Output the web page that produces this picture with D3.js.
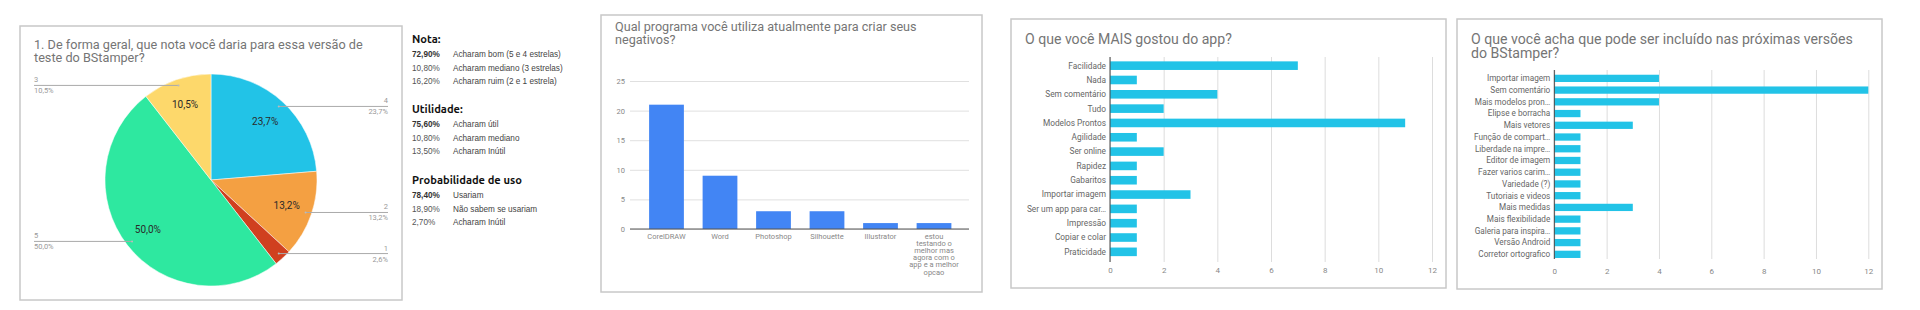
<!DOCTYPE html>
<html>
<head>
<meta charset="utf-8">
<style>
  body { margin: 0; background: #fff; }
  svg { display: block; font-family: Roboto, Arial, sans-serif; }
</style>
<script src="https://cdn.jsdelivr.net/npm/d3@7"></script>
</head>
<body>
<script>
// ---- data ----
var notaLabels = ["4", "2", "1", "5", "3"];
var notaCounts = [9, 5, 1, 19, 4];
var notaColors = ["#22c3e7", "#f4a042", "#d0401f", "#2ee8a0", "#fdd86b"];

var summaryTitles = ["Nota:", "Utilidade:", "Probabilidade de uso"];
var summaryPcts = [["72,90%", "10,80%", "16,20%"], ["75,60%", "10,80%", "13,50%"], ["78,40%", "18,90%", "2,70%"]];
var summaryTexts = [
  ["Acharam bom (5 e 4 estrelas)", "Acharam mediano (3 estrelas)", "Acharam ruim (2 e 1 estrela)"],
  ["Acharam útil", "Acharam mediano", "Acharam Inútil"],
  ["Usariam", "Não sabem se usariam", "Acharam Inútil"]
];

var programs = ["CorelDRAW", "Word", "Photoshop", "Silhouette", "Illustrator",
  "estou|testando o|melhor mas|agora com o|app e a melhor|opcao"];
var programCounts = [21, 9, 3, 3, 1, 1];
var programTicks = [0, 5, 10, 15, 20, 25];

var likedItems = ["Facilidade", "Nada", "Sem comentário", "Tudo", "Modelos Prontos", "Agilidade",
  "Ser online", "Rapidez", "Gabaritos", "Importar imagem", "Ser um app para car…", "Impressão",
  "Copiar e colar", "Praticidade"];
var likedCounts = [7, 1, 4, 2, 11, 1, 2, 1, 1, 3, 1, 1, 1, 1];

var ideaItems = ["Importar imagem", "Sem comentário", "Mais modelos pron…", "Elipse e borracha",
  "Mais vetores", "Função de compart…", "Liberdade na impre…", "Editor de imagem",
  "Fazer varios carim…", "Variedade (?)", "Tutoriais e videos", "Mais medidas",
  "Mais flexibilidade", "Galeria para inspira…", "Versão Android", "Corretor ortografico"];
var ideaCounts = [4, 12, 4, 1, 3, 1, 1, 1, 1, 1, 1, 3, 1, 1, 1, 1];
var countTicks = [0, 2, 4, 6, 8, 10, 12];

var svg = d3.select("body").append("svg")
    .attr("width", 1920)
    .attr("height", 310);

function panel(x0, y0, x1, y1) {
  svg.append("rect")
      .attr("x", x0).attr("y", y0)
      .attr("width", x1 - x0).attr("height", y1 - y0)
      .attr("fill", "#fff")
      .attr("stroke", "#c8c8c8")
      .attr("stroke-width", 1.5);
}

// font size so that the first line is about `width` px wide
function fitSize(sel, width) {
  var s = +sel.attr("font-size");
  return s * width / sel.node().getComputedTextLength();
}

function title(x, ys, lines, width) {
  var ts = lines.map(function(t, i) {
    return svg.append("text")
        .attr("x", x).attr("y", ys[i])
        .attr("font-size", 14)
        .attr("fill", "#757575")
        .text(t);
  });
  var size = fitSize(ts[0], width);
  ts.forEach(t => t.attr("font-size", size));
}

// ---- panel 1 : pie ----
panel(20, 26, 402, 300);
title(34, [49, 62], ["1. De forma geral, que nota você daria para essa versão de", "teste do BStamper?"], 329);

var total = d3.sum(notaCounts);
var fmt = function(v) { return d3.format(".1f")(v * 100 / total).replace(".", ",") + "%"; };
var cx = 211, cy = 180, r = 106;
var pie = d3.pie().sort(null)(notaCounts);
var arc = d3.arc().innerRadius(0).outerRadius(r);
var midArc = d3.arc().innerRadius(100).outerRadius(100);
var inArc = d3.arc().innerRadius(80).outerRadius(80);

var pg = svg.append("g").attr("transform", `translate(${cx},${cy})`);
pg.selectAll("path")
    .data(pie)
  .enter().append("path")
    .attr("d", arc)
    .attr("fill", (d, i) => notaColors[i])
    .attr("stroke", "#fff")
    .attr("stroke-width", 0.5);

pg.selectAll(".inl")
    .data(pie.filter(d => d.value / total > 0.05))
  .enter().append("text")
    .attr("class", "inl")
    .attr("transform", d => `translate(${inArc.centroid(d)})`)
    .attr("text-anchor", "middle")
    .attr("dy", "0.35em")
    .attr("font-size", 10)
    .attr("fill", "#2a2a2a")
    .text(d => fmt(d.value));

pie.forEach(function(d, i) {
  var c = midArc.centroid(d);
  var ax = cx + c[0], ay = cy + c[1];
  var right = c[0] > 0;
  var ex = right ? 388 : 34;
  svg.append("line")
      .attr("x1", ax).attr("y1", ay).attr("x2", ex).attr("y2", ay)
      .attr("stroke", "#aaa").attr("stroke-width", 1);
  svg.append("circle").attr("cx", ax).attr("cy", ay).attr("r", 1).attr("fill", "#bbb");
  var anchor = right ? "end" : "start";
  svg.append("text").attr("x", ex).attr("y", ay - 3)
      .attr("text-anchor", anchor).attr("font-size", 7.5).attr("fill", "#999")
      .text(notaLabels[i]);
  svg.append("text").attr("x", ex).attr("y", ay + 8)
      .attr("text-anchor", anchor).attr("font-size", 7.5).attr("fill", "#999")
      .text(fmt(d.value));
});

// ---- summary text ----
var sy = [43, 113, 184];
var heads = summaryTitles.map(function(t, k) {
  return svg.append("text")
      .attr("x", 412).attr("y", sy[k])
      .attr("font-family", "Ubuntu, 'Open Sans', sans-serif")
      .attr("font-weight", "bold")
      .attr("font-size", 12)
      .attr("fill", "#111")
      .text(t);
});
var headSize = fitSize(heads[2], 110);
heads.forEach(h => h.attr("font-size", headSize));

summaryTitles.forEach(function(t, k) {
  summaryPcts[k].forEach(function(p, j) {
    var y = sy[k] + 14 + j * 13.5;
    svg.append("text")
        .attr("x", 412).attr("y", y)
        .attr("font-family", "'Liberation Sans', Arial, sans-serif")
        .attr("font-size", 8.2)
        .attr("font-weight", j === 0 ? "bold" : "normal")
        .attr("fill", j === 0 ? "#333" : "#555")
        .text(p);
    svg.append("text")
        .attr("x", 453).attr("y", y)
        .attr("font-family", "'Liberation Sans', Arial, sans-serif")
        .attr("font-size", 8.2)
        .attr("fill", "#444")
        .text(summaryTexts[k][j]);
  });
});

// ---- panel 2 : vertical bars ----
panel(601, 15, 982, 292);
title(615, [31, 44], ["Qual programa você utiliza atualmente para criar seus", "negativos?"], 302);

var bx = d3.scaleBand()
    .domain(programs)
    .range([639.75, 960.75])
    .paddingInner(0.35)
    .paddingOuter(0.175);
var by = d3.scaleLinear().domain([0, 25]).range([229, 81]);

var g2 = svg.append("g");
g2.append("g")
    .attr("transform", "translate(630,0)")
    .call(d3.axisLeft(by).tickValues(programTicks).tickSize(-339).tickPadding(5))
    .call(g => g.select(".domain").remove())
    .call(g => g.selectAll(".tick line").attr("stroke", "#e0e0e0"))
    .call(g => g.selectAll(".tick text").attr("fill", "#888").attr("font-size", 7.5).attr("font-family", "Roboto, Arial"));

g2.selectAll(".bar")
    .data(programs)
  .enter().append("rect")
    .attr("class", "bar")
    .attr("x", d => bx(d))
    .attr("width", bx.bandwidth())
    .attr("y", (d, i) => by(programCounts[i]))
    .attr("height", (d, i) => by(0) - by(programCounts[i]))
    .attr("fill", "#4285f4");

g2.append("line").attr("x1", 630).attr("x2", 969).attr("y1", by(0)).attr("y2", by(0))
    .attr("stroke", "#555").attr("stroke-width", 1);

programs.forEach(function(p) {
  var t = g2.append("text")
      .attr("x", bx(p) + bx.bandwidth() / 2)
      .attr("y", 239)
      .attr("text-anchor", "middle")
      .attr("font-size", 7.5)
      .attr("fill", "#888");
  p.split("|").forEach(function(line, i) {
    t.append("tspan").attr("x", bx(p) + bx.bandwidth() / 2).attr("dy", i ? 7.1 : 0).text(line);
  });
});

// ---- horizontal bar panels ----
function hbars(opts) {
  var x = d3.scaleLinear().domain([0, 12]).range([opts.x0, opts.x1]);
  var y = d3.scaleBand().domain(opts.items).range(opts.band)
      .paddingInner(opts.pad).paddingOuter(opts.pad / 2);
  var g = svg.append("g");
  g.append("g")
      .attr("transform", `translate(0,${opts.axisBottom})`)
      .call(d3.axisBottom(x).tickValues(countTicks).tickSize(opts.axisTop - opts.axisBottom).tickPadding(0))
      .call(g => g.select(".domain").remove())
      .call(g => g.selectAll(".tick line").attr("stroke", "#ddd"))
      .call(g => g.selectAll(".tick text").attr("fill", "#888").attr("font-size", opts.tick)
          .attr("font-family", "Roboto, Arial").attr("y", opts.tickY - opts.axisBottom).attr("dy", "0.35em"));
  g.selectAll(".bar")
      .data(opts.items)
    .enter().append("rect")
      .attr("x", x(0))
      .attr("y", d => y(d))
      .attr("height", y.bandwidth())
      .attr("width", (d, i) => x(opts.counts[i]) - x(0))
      .attr("fill", "#22c3e7");
  g.append("line").attr("x1", x(0)).attr("x2", x(0))
      .attr("y1", opts.axisTop).attr("y2", opts.axisBottom)
      .attr("stroke", "#444").attr("stroke-width", 1);
  g.selectAll(".lbl")
      .data(opts.items)
    .enter().append("text")
      .attr("x", x(0) - 4)
      .attr("y", d => y(d) + y.bandwidth() / 2)
      .attr("dy", "0.35em")
      .attr("text-anchor", "end")
      .attr("font-size", opts.font)
      .attr("fill", "#666")
      .text(d => d);
}

panel(1011, 19, 1446, 288);
title(1025, [44], ["O que você MAIS gostou do app?"], 207);
hbars({ x0: 1110, x1: 1432, band: [58.5, 259], pad: 0.4, items: likedItems, counts: likedCounts,
  axisTop: 57, axisBottom: 262, tickY: 270, font: 8.3, tick: 8 });

panel(1457, 19, 1882, 289);
title(1471, [44, 58], ["O que você acha que pode ser incluído nas próximas versões", "do BStamper?"], 382);
hbars({ x0: 1554.3, x1: 1868.3, band: [72.5, 260.2], pad: 0.38, items: ideaItems, counts: ideaCounts,
  axisTop: 70, axisBottom: 259, tickY: 271, font: 8.2, tick: 8 });
</script>
</body>
</html>
